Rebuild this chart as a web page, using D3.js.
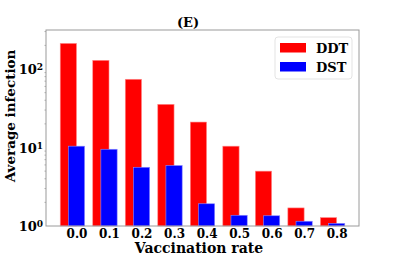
<!DOCTYPE html>
<html lang="en">
<head>
  <meta charset="UTF-8">
  <title>(E) Average infection</title>
  <style>
    body { margin: 0; background: #fff; }
    svg { display: block; }
    text { font-family: "DejaVu Serif", serif; font-weight: bold; fill: #000; }
  </style>
</head>
<body>
  <div id="chart"></div>
  <script src="https://d3js.org/d3.v7.min.js"></script>
  <script>
    // Vaccination rates on the x axis
    const rates = ["0.0", "0.1", "0.2", "0.3", "0.4", "0.5", "0.6", "0.7", "0.8"];
    // Average infection per strategy
    const ddt = [212, 129, 74, 35.5, 21.1, 10.4, 5.0, 1.70, 1.28];
    const dst = [10.4, 9.5, 5.6, 5.9, 1.92, 1.37, 1.35, 1.15, 1.08];
    const yTicks = [1, 10, 100];

    const W = 399, H = 273;
    const margin = { top: 30, right: 40, bottom: 47, left: 46 };

    const svg = d3.select("#chart").append("svg")
      .attr("width", W)
      .attr("height", H);

    // positions by index; the bar pair spans -0.5 .. 8.25, plus 5% margins
    const x = d3.scaleLinear()
      .domain([-0.9375, 8.6875])
      .range([margin.left, W - margin.right]);

    const y = d3.scaleLog()
      .domain([1, Math.pow(10, 2.497)])
      .range([H - margin.bottom, margin.top]);

    const barW = 0.5;
    const px = v => x(v) - x(0);

    // red bars (DDT), shifted half a width to the left
    svg.append("g").selectAll("rect")
      .data(ddt)
      .join("rect")
      .attr("x", (d, i) => x(i - barW))
      .attr("width", px(barW))
      .attr("y", d => y(d))
      .attr("height", d => y(1) - y(d))
      .attr("fill", "#ff0000")
      .attr("stroke", "#ff8c8c")
      .attr("stroke-width", 0.6);

    // blue bars (DST), centred on the tick
    svg.append("g").selectAll("rect")
      .data(dst)
      .join("rect")
      .attr("x", (d, i) => x(i - barW / 2))
      .attr("width", px(barW))
      .attr("y", d => y(d))
      .attr("height", d => y(1) - y(d))
      .attr("fill", "#0000ff")
      .attr("stroke", "#8c8cff")
      .attr("stroke-width", 0.6);

    // frame
    svg.append("rect")
      .attr("x", margin.left)
      .attr("y", margin.top)
      .attr("width", W - margin.left - margin.right)
      .attr("height", H - margin.top - margin.bottom)
      .attr("fill", "none")
      .attr("stroke", "#9a9a9a")
      .attr("stroke-width", 1);

    // x axis
    const xAxis = svg.append("g")
      .attr("transform", `translate(0,${H - margin.bottom})`)
      .call(d3.axisBottom(x)
        .tickValues(d3.range(rates.length))
        .tickFormat(i => rates[i])
        .tickSize(0)
        .tickPadding(3));
    xAxis.select(".domain").remove();
    xAxis.selectAll("text")
      .style("font-family", "DejaVu Serif, serif")
      .style("font-weight", "bold")
      .style("font-size", "12px")
      .attr("dy", "0.71em");

    // y axis (log) with 10^n labels
    const yAxis = svg.append("g")
      .attr("transform", `translate(${margin.left},0)`)
      .call(d3.axisLeft(y)
        .tickValues(yTicks)
        .tickFormat("")
        .tickSize(0)
        .tickPadding(4));
    yAxis.select(".domain").remove();
    yAxis.selectAll(".tick text").each(function(d) {
      const t = d3.select(this)
        .style("font-family", "DejaVu Serif, serif")
        .style("font-weight", "bold")
        .style("font-size", "13px")
        .attr("dy", "0.35em")
        .attr("x", -3);
      t.append("tspan").text("10");
      t.append("tspan")
        .attr("dy", "-0.45em")
        .style("font-size", "9px")
        .text(Math.round(Math.log10(d)));
    });

    // minor log ticks
    const minor = [];
    for (let e = 0; e < 3; e++) {
      for (let k = 2; k <= 9; k++) {
        const v = k * Math.pow(10, e);
        if (v < y.domain()[1]) minor.push(v);
      }
    }
    svg.append("g").selectAll("line")
      .data(minor)
      .join("line")
      .attr("x1", margin.left - 1.5)
      .attr("x2", margin.left)
      .attr("y1", d => y(d))
      .attr("y2", d => y(d))
      .attr("stroke", "#9a9a9a")
      .attr("stroke-width", 0.8);

    // title
    svg.append("text")
      .attr("x", 188)
      .attr("y", 27)
      .attr("text-anchor", "middle")
      .style("font-size", "13px")
      .text("(E)");

    // axis labels
    svg.append("text")
      .attr("x", 199)
      .attr("y", 253)
      .attr("text-anchor", "middle")
      .style("font-size", "14px")
      .text("Vaccination rate");

    svg.append("text")
      .attr("transform", "translate(15,116) rotate(-90)")
      .attr("text-anchor", "middle")
      .style("font-size", "13.5px")
      .text("Average infection");

    // legend
    const legendItems = [
      { name: "DDT", color: "#ff0000" },
      { name: "DST", color: "#0000ff" }
    ];
    const legend = svg.append("g").attr("transform", "translate(275,37)");
    legend.append("rect")
      .attr("width", 77)
      .attr("height", 42)
      .attr("rx", 3)
      .attr("fill", "#fff")
      .attr("fill-opacity", 0.8)
      .attr("stroke", "#dcdcdc")
      .attr("stroke-width", 0.8);
    const li = legend.selectAll("g.item")
      .data(legendItems)
      .join("g")
      .attr("class", "item")
      .attr("transform", (d, i) => `translate(5,${6 + i * 19})`);
    li.append("rect")
      .attr("width", 26)
      .attr("height", 9.5)
      .attr("fill", d => d.color);
    li.append("text")
      .attr("x", 36)
      .attr("y", 9.5)
      .style("font-size", "13px")
      .text(d => d.name);
  </script>
</body>
</html>
